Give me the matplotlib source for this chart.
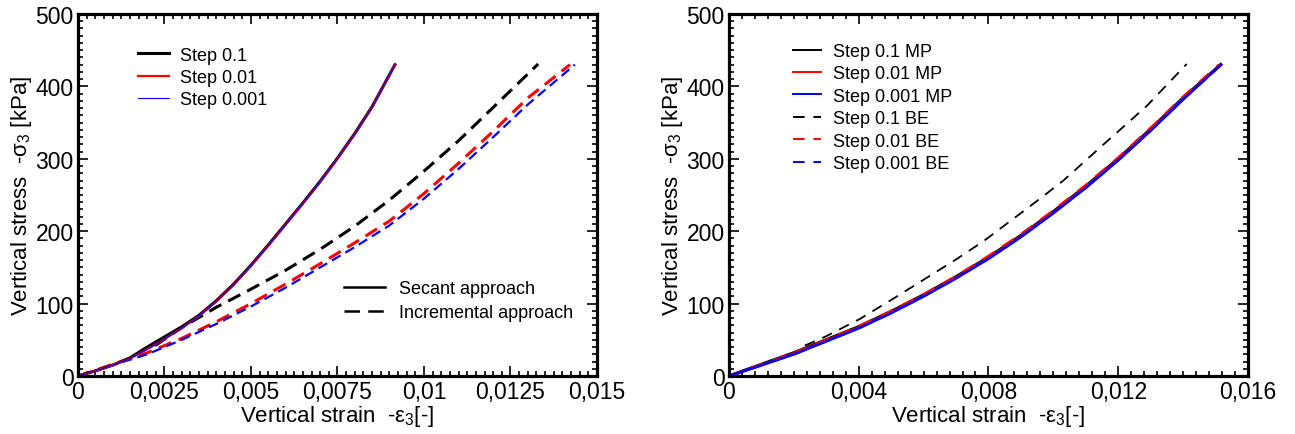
import matplotlib
matplotlib.use('Agg')
import matplotlib.pyplot as plt
from matplotlib.ticker import MultipleLocator, FixedLocator, FixedFormatter

plt.rcParams['font.family'] = ['Liberation Sans', 'DejaVu Sans']
plt.rcParams['mathtext.fontset'] = 'custom'
plt.rcParams['mathtext.rm'] = 'Liberation Sans'
plt.rcParams['mathtext.default'] = 'regular'

# ---- left panel: secant vs incremental approach (strain in 1e-3)
sec01_x = [0, 0.5, 1.0, 1.5, 2.0, 2.5, 3.0, 3.5, 4.0, 4.5, 5.0, 5.5, 6.0, 6.5, 7.0, 7.5, 8.0, 8.5, 9.16]
sec01_y = [0, 7, 15, 25, 40, 54, 68, 84, 104, 127, 153, 181, 210, 239, 269, 301, 335, 372, 430]
sec001_x = [0, 0.5, 1.0, 1.5, 2.0, 2.5, 3.0, 3.5, 4.0, 4.5, 5.0, 5.5, 6.0, 6.5, 7.0, 7.5, 8.0, 8.5, 9.16]
sec001_y = [0, 7, 15, 24, 37, 51, 66, 83, 103, 126, 152, 180, 209, 238, 268, 300, 334, 371, 430]
sec0001_x = sec001_x
sec0001_y = [0, 7, 15, 24, 37, 51, 66, 83, 103, 126, 152, 180, 209, 238, 268, 300, 334, 371, 430]

inc01_x = [2.23, 3.0, 4.0, 5.0, 6.0, 7.0, 8.0, 9.0, 10.0, 11.0, 12.0, 13.3]
inc01_y = [42, 67, 95, 120, 146, 175, 207, 243, 283, 325, 371, 431]
inc001_x = [0, 1.0, 2.0, 3.0, 4.0, 5.0, 6.0, 7.0, 8.0, 9.0, 10.0, 11.0, 12.0, 13.0, 14.22]
inc001_y = [0, 16, 32, 52, 75, 100, 127, 155, 184, 214, 252, 294, 338, 384, 430]
inc0001_x = [0, 1.0, 2.0, 3.0, 4.0, 5.0, 6.0, 7.0, 8.0, 9.0, 10.0, 11.0, 12.0, 13.0, 14.36]
inc0001_y = [0, 15, 30, 50, 72, 96, 122, 150, 178, 208, 245, 286, 330, 375, 430]

# ---- right panel: MP vs BE (strain in 1e-3)
mp_x = [0, 1.0, 2.0, 3.0, 4.0, 5.0, 6.0, 7.0, 8.0, 9.0, 10.0, 11.0, 12.0, 13.0, 14.0, 15.16]
mp01_y = [0, 16, 32, 50, 68, 89, 112, 137, 164, 194, 227, 262, 300, 341, 384, 430]
mp001_y = [0, 15, 31, 49, 67, 88, 111, 136, 163, 193, 226, 261, 299, 340, 383, 430]
mp0001_y = [0, 15, 30, 48, 66, 87, 110, 135, 162, 192, 225, 260, 298, 339, 382, 430]
be01_x = [2.34, 3.0, 4.04, 5.0, 5.68, 7.0, 7.84, 9.0, 9.59, 10.31, 11.5, 12.88, 14.11]
be01_y = [42, 55, 79, 105, 124, 161, 186, 225, 245, 270, 318, 373, 431]
be001_x = [0, 1.0, 2.0, 3.0, 4.0, 5.0, 6.0, 7.0, 8.0, 9.0, 10.0, 11.0, 12.0, 13.0, 14.0, 15.1]
be001_y = [0, 16, 32, 50, 69, 90, 113, 138, 166, 196, 229, 264, 302, 343, 386, 430]
be0001_y = [0, 15, 30, 48, 66, 87, 110, 135, 162, 192, 225, 260, 298, 339, 382, 430]

left_xticks = [0, 0.0025, 0.005, 0.0075, 0.01, 0.0125, 0.015]
left_xlabels = ['0', '0,0025', '0,005', '0,0075', '0,01', '0,0125', '0,015']
right_xticks = [0, 0.004, 0.008, 0.012, 0.016]
right_xlabels = ['0', '0,004', '0,008', '0,012', '0,016']
yticks = [0, 100, 200, 300, 400, 500]


def sc(xs):
    return [v * 1e-3 for v in xs]


def style_axes(ax, xticks, xlabels, xminor):
    ax.set_ylim(0, 500)
    ax.set_xlim(xticks[0], xticks[-1])
    ax.xaxis.set_major_locator(FixedLocator(xticks))
    ax.xaxis.set_major_formatter(FixedFormatter(xlabels))
    ax.xaxis.set_minor_locator(MultipleLocator(xminor))
    ax.yaxis.set_major_locator(FixedLocator(yticks))
    ax.yaxis.set_minor_locator(MultipleLocator(10))
    ax.tick_params(which='both', direction='in', top=True, right=True, labelsize=16.5, width=1.2)
    ax.tick_params(which='major', length=7, pad=3)
    ax.tick_params(which='minor', length=3.5)
    for s in ax.spines.values():
        s.set_linewidth(2.3)
    ax.set_xlabel('Vertical strain  -ε$_3$[-]', fontsize=16, labelpad=0)
    ax.set_ylabel('Vertical stress  -σ$_3$ [kPa]', fontsize=16, labelpad=1)


fig = plt.figure(figsize=(12.95, 4.35), dpi=100)
ax1 = fig.add_axes([0.0602, 0.1333, 0.4008, 0.8322])
ax2 = fig.add_axes([0.5629, 0.1333, 0.4008, 0.8322])

dsh = (4.5, 2.5)
ax1.plot(sc(inc01_x), inc01_y, color='black', lw=2.2, dashes=dsh)
ax1.plot(sc(inc001_x), inc001_y, color='red', lw=2.2, dashes=dsh)
ax1.plot(sc(inc0001_x), inc0001_y, color='blue', lw=1.6, dashes=dsh)
h1, = ax1.plot(sc(sec01_x), sec01_y, color='black', lw=2.2, label='Step 0.1')
h2, = ax1.plot(sc(sec001_x), sec001_y, color='red', lw=1.6, label='Step 0.01')
h3, = ax1.plot(sc(sec0001_x), sec0001_y, color='blue', lw=0.8, label='Step 0.001')
style_axes(ax1, left_xticks, left_xlabels, 0.00025)

leg1 = ax1.legend(handles=[h1, h2, h3], loc='upper left', bbox_to_anchor=(0.085, 0.955),
                  frameon=False, fontsize=13, handlelength=1.7, handletextpad=0.6,
                  labelspacing=0.3)
ax1.add_artist(leg1)
s1, = ax1.plot([], [], color='black', lw=1.8, label='Secant approach')
s2, = ax1.plot([], [], color='black', lw=1.8, dashes=(6.2, 3.3), label='Incremental approach')
ax1.legend(handles=[s1, s2], loc='upper left', bbox_to_anchor=(0.482, 0.31),
           frameon=False, fontsize=13, handlelength=2.25, handletextpad=0.8,
           labelspacing=0.4)

ax2.plot(sc(mp_x), mp01_y, color='black', lw=2.4, label='Step 0.1 MP')
ax2.plot(sc(mp_x), mp001_y, color='red', lw=2.0, label='Step 0.01 MP')
ax2.plot(sc(mp_x), mp0001_y, color='blue', lw=2.0, label='Step 0.001 MP')
ax2.plot(sc(be01_x), be01_y, color='black', lw=1.3, dashes=(6, 4.5), label='Step 0.1 BE')
ax2.plot(sc(be001_x), be001_y, color='red', lw=1.6, dashes=(6, 4.5), label='Step 0.01 BE')
ax2.plot(sc(mp_x), be0001_y, color='blue', lw=1.6, dashes=(6, 4.5), label='Step 0.001 BE')
style_axes(ax2, right_xticks, right_xlabels, 0.0004)
leg2 = ax2.legend(loc='upper left', bbox_to_anchor=(0.093, 0.965), frameon=False, fontsize=13,
                  handlelength=1.5, handletextpad=0.7, labelspacing=0.3)
for ln in leg2.get_lines():
    ln.set_linewidth(1.4)

fig.savefig('out.png', dpi=100)
